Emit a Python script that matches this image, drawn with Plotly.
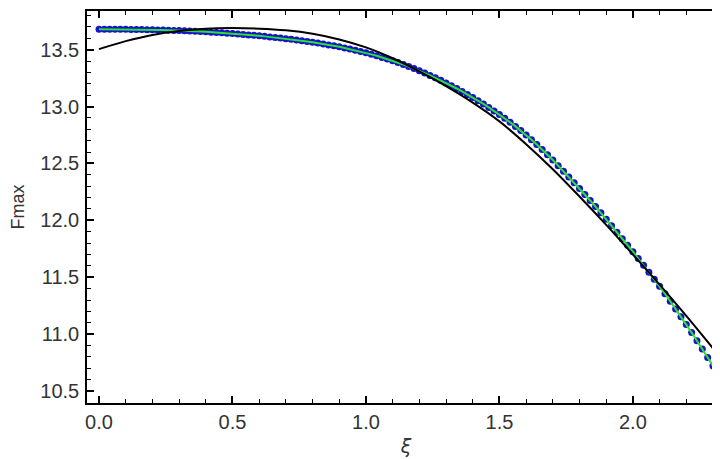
import plotly.graph_objects as go

# sampled points (blue dots, joined by a green line)
xi = [round(i * 0.02, 2) for i in range(116)]
fmax = [
    13.680, 13.680, 13.680, 13.680, 13.679, 13.679, 13.678, 13.677, 13.677, 13.676,
    13.675, 13.674, 13.672, 13.671, 13.669, 13.668, 13.666, 13.664, 13.662, 13.659,
    13.657, 13.654, 13.651, 13.648, 13.645, 13.642, 13.638, 13.634, 13.630, 13.626,
    13.622, 13.617, 13.612, 13.607, 13.602, 13.597, 13.591, 13.585, 13.578, 13.572,
    13.565, 13.558, 13.550, 13.542, 13.534, 13.525, 13.515, 13.505, 13.494, 13.483,
    13.472, 13.459, 13.446, 13.432, 13.418, 13.403, 13.387, 13.370, 13.352, 13.334,
    13.315, 13.295, 13.274, 13.253, 13.231, 13.208, 13.184, 13.159, 13.133, 13.107,
    13.080, 13.052, 13.023, 12.993, 12.962, 12.930, 12.897, 12.862, 12.826, 12.789,
    12.750, 12.709, 12.667, 12.623, 12.577, 12.530, 12.481, 12.431, 12.381, 12.331,
    12.280, 12.228, 12.175, 12.121, 12.066, 12.010, 11.953, 11.896, 11.839, 11.782,
    11.725, 11.665, 11.605, 11.544, 11.482, 11.420, 11.355, 11.289, 11.222, 11.154,
    11.085, 11.014, 10.942, 10.869, 10.795, 10.720,
]

# fitted curve (black)
xi_fit = [round(i * 0.1, 1) for i in range(24)]
fmax_fit = [
    13.505, 13.575, 13.630, 13.665, 13.685, 13.690, 13.685, 13.670, 13.640, 13.590,
    13.520, 13.425, 13.310, 13.180, 13.035, 12.870, 12.670, 12.450, 12.210, 11.960,
    11.700, 11.435, 11.160, 10.875,
]

y_ticks = [10.5, 11.0, 11.5, 12.0, 12.5, 13.0, 13.5]
x_ticks = [0.0, 0.5, 1.0, 1.5, 2.0]

fig = go.Figure()
fig.add_trace(go.Scatter(x=xi, y=fmax, mode='markers',
                         marker=dict(color='#1414c8', size=7)))
fig.add_trace(go.Scatter(x=xi, y=fmax, mode='lines',
                         line=dict(color='#2ee02e', width=2)))
fig.add_trace(go.Scatter(x=xi_fit, y=fmax_fit, mode='lines', line_shape='spline',
                         line=dict(color='black', width=2)))

axis_common = dict(
    showgrid=False, zeroline=False, showline=True, linecolor='black', linewidth=1.5,
    mirror='allticks', ticks='inside', ticklen=7, tickwidth=1.5, tickcolor='black',
    minor=dict(ticks='inside', ticklen=4, tickwidth=1, tickcolor='black', dtick=0.1),
    tickfont=dict(family='Liberation Sans, Arial', size=20, color='#333333'),
    tickformat='.1f',
)

fig.update_layout(
    width=720, height=459,
    paper_bgcolor='white', plot_bgcolor='white',
    showlegend=False,
    margin=dict(l=79, r=1, t=1, b=64),
    xaxis=dict(range=[-0.045, 2.345], tickvals=x_ticks,
               title=dict(text='ξ', standoff=8,
                          font=dict(family='DejaVu Sans, Arial', size=19, color='#333333',
                                    style='italic')),
               **axis_common),
    yaxis=dict(range=[10.395, 13.84], tickvals=y_ticks, ticklabelstandoff=2,
               title=dict(text='Fmax', standoff=17,
                          font=dict(family='Liberation Sans, Arial', size=18, color='#333333')),
               **axis_common),
)

fig.write_html("out.html")
